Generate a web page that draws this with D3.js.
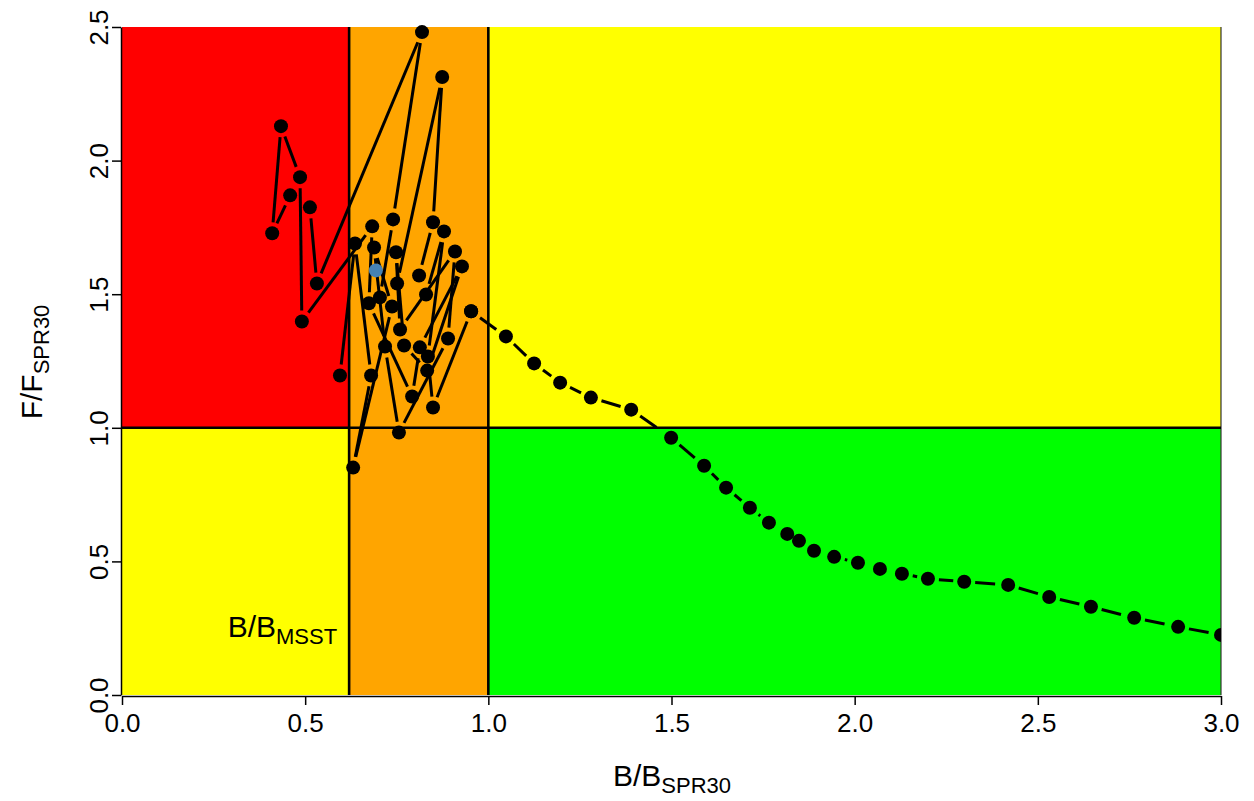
<!DOCTYPE html>
<html><head><meta charset="utf-8">
<script src="https://cdn.jsdelivr.net/npm/d3@7"></script>
<style>
body{margin:0;background:#fff}
text{font-family:"Liberation Sans",Arial,Helvetica,sans-serif}
</style>
</head><body>
<svg id="chart" width="1254" height="801"></svg>
<script>
// ---------- data ----------
const histB = [0.595,0.636,0.680,0.631,0.737,0.688,0.718,0.756,0.890,0.909,0.759,0.748,0.770,0.833,0.928,0.813,0.792,0.674,0.683,0.491,0.486,0.434,0.410,0.459,0.513,0.532,0.819,0.740,0.704,0.751,0.874,0.849,0.811,0.830,0.879,0.835,0.849,0.953];
const histF = [1.196,1.690,1.196,0.851,1.454,1.675,1.304,0.982,1.334,1.660,1.368,1.657,1.308,1.214,1.604,1.301,1.117,1.466,1.754,1.398,1.938,2.129,1.728,1.870,1.825,1.540,2.481,1.780,1.488,1.540,2.313,1.769,1.570,1.499,1.735,1.267,1.076,1.436];
const projB = [0.953,1.048,1.125,1.196,1.280,1.390,1.499,1.589,1.649,1.714,1.766,1.816,1.848,1.889,1.944,2.009,2.069,2.129,2.200,2.299,2.419,2.531,2.645,2.763,2.883,3.000];
const projF = [1.436,1.342,1.241,1.169,1.113,1.068,0.963,0.858,0.776,0.701,0.645,0.603,0.577,0.540,0.517,0.495,0.472,0.454,0.435,0.424,0.412,0.367,0.330,0.289,0.255,0.225];
const refB = [0.693];
const refF = [1.589];
const xTicks = [0, 0.5, 1.0, 1.5, 2.0, 2.5, 3.0];
const yTicks = [0, 0.5, 1.0, 1.5, 2.0, 2.5];
const bMSST = 0.62, bRef = 1.0, fRef = 1.0;
const xMax = 3.0, yMax = 2.5;
// zone bounds
const zoneB0 = [0, bMSST, bRef, 0, bRef];
const zoneB1 = [bMSST, bRef, xMax, bMSST, xMax];
const zoneF0 = [fRef, 0, fRef, 0, 0];
const zoneF1 = [yMax, yMax, yMax, fRef, fRef];
const zoneColor = ["#FF0000", "#FFA500", "#FFFF00", "#FFFF00", "#00FF00"];

// ---------- drawing ----------
const svg = d3.select("#chart");
const x = d3.scaleLinear().domain([0, xMax]).range([122, 1221]);
const y = d3.scaleLinear().domain([0, yMax]).range([695, 27]);

const zones = zoneB0.map((b0, i) => ({b0, b1: zoneB1[i], f0: zoneF0[i], f1: zoneF1[i], c: zoneColor[i]}));
svg.append("g").selectAll("rect").data(zones).join("rect")
  .attr("x", d => x(d.b0)).attr("y", d => y(d.f1))
  .attr("width", d => x(d.b1) - x(d.b0)).attr("height", d => y(d.f0) - y(d.f1))
  .attr("fill", d => d.c);

svg.append("line").attr("x1", x(xMax)).attr("x2", x(xMax)).attr("y1", y(yMax)).attr("y2", y(0))
  .attr("stroke", "#333").attr("stroke-width", 1.2);

const refLines = svg.append("g").attr("stroke", "#000").attr("stroke-width", 2.6);
[bMSST, bRef].forEach(v => refLines.append("line").attr("x1", x(v)).attr("x2", x(v)).attr("y1", y(yMax)).attr("y2", y(0)));
refLines.append("line").attr("x1", x(0)).attr("x2", x(xMax)).attr("y1", y(fRef)).attr("y2", y(fRef));

svg.append("clipPath").attr("id", "pc").append("rect")
  .attr("x", x(0)).attr("y", y(yMax) - 6).attr("width", x(xMax) - x(0)).attr("height", y(0) - y(yMax) + 6);
const plot = svg.append("g").attr("clip-path", "url(#pc)");

const GAP = 11;
function segs(bs, fs) {
  const out = [];
  for (let i = 0; i < bs.length - 1; i++) {
    const x0 = x(bs[i]), y0 = y(fs[i]), x1 = x(bs[i + 1]), y1 = y(fs[i + 1]);
    const dx = x1 - x0, dy = y1 - y0, L = Math.hypot(dx, dy);
    if (L <= 2 * GAP + 1) continue;
    const ux = dx / L, uy = dy / L;
    out.push({x0: x0 + ux * GAP, y0: y0 + uy * GAP, x1: x1 - ux * GAP, y1: y1 - uy * GAP});
  }
  return out;
}
plot.append("g").selectAll("line").data(segs(histB, histF)).join("line")
  .attr("x1", d => d.x0).attr("y1", d => d.y0).attr("x2", d => d.x1).attr("y2", d => d.y1)
  .attr("stroke", "#000").attr("stroke-width", 3);
plot.append("g").selectAll("line").data(segs(projB, projF)).join("line")
  .attr("x1", d => d.x0).attr("y1", d => d.y0).attr("x2", d => d.x1).attr("y2", d => d.y1)
  .attr("stroke", "#000").attr("stroke-width", 3).attr("stroke-dasharray", "20,9");

const R = 7;
plot.append("g").selectAll("circle").data(histB.map((b, i) => [b, histF[i]])).join("circle")
  .attr("cx", d => x(d[0])).attr("cy", d => y(d[1])).attr("r", R).attr("fill", "#000");
plot.append("g").selectAll("circle").data(projB.map((b, i) => [b, projF[i]])).join("circle")
  .attr("cx", d => x(d[0])).attr("cy", d => y(d[1])).attr("r", R).attr("fill", "#000");
plot.append("g").selectAll("circle").data(refB.map((b, i) => [b, refF[i]])).join("circle")
  .attr("cx", d => x(d[0])).attr("cy", d => y(d[1])).attr("r", R).attr("fill", "#4682B4");

// axes
const fmt = d3.format(".1f");
const xAxis = svg.append("g").attr("transform", "translate(0,696)")
  .call(d3.axisBottom(x).tickValues(xTicks).tickFormat(fmt).tickSize(9).tickSizeOuter(0).tickPadding(9));
const yAxis = svg.append("g").attr("transform", "translate(121,0)")
  .call(d3.axisLeft(y).tickValues(yTicks).tickFormat(fmt).tickSize(9).tickSizeOuter(0));
[xAxis, yAxis].forEach(a => {
  a.select(".domain").attr("stroke", "#000").attr("stroke-width", 1.5);
  a.selectAll(".tick line").attr("stroke", "#000").attr("stroke-width", 1.5);
  a.selectAll("text").attr("font-size", 26).attr("fill", "#000")
    .attr("font-family", "'Liberation Sans',Arial,sans-serif");
});
yAxis.selectAll(".tick text").attr("transform", "rotate(-90)")
  .attr("x", 0).attr("y", -13).attr("dy", 0).attr("text-anchor", "middle");

function subText(g, main, sub) {
  const t = g.append("text").attr("font-size", 30).attr("fill", "#000");
  t.append("tspan").text(main);
  t.append("tspan").attr("font-size", 22).attr("dy", 7).text(sub);
  return t;
}
subText(svg.append("g").attr("transform", "translate(672,786)"), "B/B", "SPR30").attr("text-anchor", "middle");
subText(svg.append("g").attr("transform", "translate(42,362) rotate(-90)"), "F/F", "SPR30").attr("text-anchor", "middle");
subText(svg.append("g").attr("transform", `translate(${x(bMSST) - 12},637)`), "B/B", "MSST").attr("text-anchor", "end");
</script>
</body></html>
